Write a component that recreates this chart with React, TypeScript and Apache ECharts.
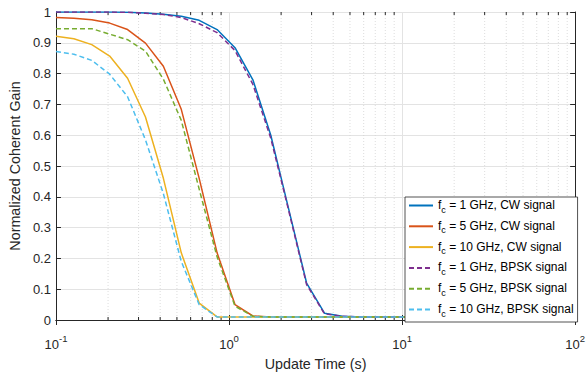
import React, { useEffect, useRef } from 'react';
import * as echarts from 'echarts';

// Update times (s), log-spaced samples
const updateTimes = [
  0.1, 0.1269, 0.161, 0.2043, 0.2593, 0.329, 0.4175, 0.5298, 0.6723, 0.8532,
  1.0826, 1.3738, 1.7433, 2.2122, 2.8072, 3.5622, 4.5204, 5.7362, 7.279, 9.2367,
  11.721, 14.874, 18.874, 23.95, 30.392, 38.566, 48.939, 62.102, 78.805, 100,
];

const cw1GHz = [
  1.0, 1.0, 1.0, 1.0, 0.999, 0.997, 0.993, 0.986, 0.973, 0.943,
  0.884, 0.78, 0.6, 0.36, 0.12, 0.022, 0.012, 0.01, 0.01, 0.01,
  0.01, 0.01, 0.01, 0.01, 0.01, 0.01, 0.01, 0.01, 0.01, 0.01,
];
const cw5GHz = [
  0.982, 0.98, 0.975, 0.964, 0.943, 0.899, 0.824, 0.684, 0.46, 0.218,
  0.05, 0.013, 0.01, 0.01, 0.01, 0.01, 0.01, 0.01, 0.01, 0.01,
  0.01, 0.01, 0.01, 0.01, 0.01, 0.01, 0.01, 0.01, 0.01, 0.01,
];
const cw10GHz = [
  0.921, 0.913, 0.894, 0.857, 0.785, 0.659, 0.46, 0.218, 0.055, 0.01,
  0.01, 0.01, 0.01, 0.01, 0.01, 0.01, 0.01, 0.01, 0.01, 0.01,
  0.01, 0.01, 0.01, 0.01, 0.01, 0.01, 0.01, 0.01, 0.01, 0.01,
];
const bpsk1GHz = [
  1.0, 1.0, 1.0, 1.0, 0.999, 0.996, 0.992, 0.982, 0.962, 0.933,
  0.875, 0.765, 0.59, 0.355, 0.115, 0.02, 0.012, 0.01, 0.01, 0.01,
  0.01, 0.01, 0.01, 0.01, 0.01, 0.01, 0.01, 0.01, 0.01, 0.01,
];
const bpsk5GHz = [
  0.946, 0.946, 0.946, 0.928, 0.91, 0.873, 0.782, 0.648, 0.425, 0.205,
  0.045, 0.012, 0.01, 0.01, 0.01, 0.01, 0.01, 0.01, 0.01, 0.01,
  0.01, 0.01, 0.01, 0.01, 0.01, 0.01, 0.01, 0.01, 0.01, 0.01,
];
const bpsk10GHz = [
  0.872, 0.863, 0.843, 0.798, 0.725, 0.585, 0.41, 0.19, 0.05, 0.01,
  0.01, 0.01, 0.01, 0.01, 0.01, 0.01, 0.01, 0.01, 0.01, 0.01,
  0.01, 0.01, 0.01, 0.01, 0.01, 0.01, 0.01, 0.01, 0.01, 0.01,
];

const seriesNames = [
  'fc = 1 GHz, CW signal',
  'fc = 5 GHz, CW signal',
  'fc = 10 GHz, CW signal',
  'fc = 1 GHz, BPSK signal',
  'fc = 5 GHz, BPSK signal',
  'fc = 10 GHz, BPSK signal',
];
const seriesValues = [cw1GHz, cw5GHz, cw10GHz, bpsk1GHz, bpsk5GHz, bpsk10GHz];
const seriesDashed = [false, false, false, true, true, true];
const seriesColors = ['#0072BD', '#D95319', '#EDB120', '#7E2F8E', '#77AC30', '#4DBEEE'];

const minorTicks = [
  0.2, 0.3, 0.4, 0.5, 0.6, 0.7, 0.8, 0.9,
  2, 3, 4, 5, 6, 7, 8, 9,
  20, 30, 40, 50, 60, 70, 80, 90,
];

const FONT = '"Liberation Sans", Arial, Helvetica, sans-serif';
const AXIS = '#262626';

export default function App() {
  const ref = useRef<HTMLDivElement>(null);
  useEffect(() => {
    document.body.style.margin = '0';
    const chart = echarts.init(ref.current!, null, { renderer: 'svg' });

    const lineSeries = seriesNames.map((name, i) => ({
      name,
      type: 'line',
      xAxisIndex: 0,
      yAxisIndex: 0,
      data: updateTimes.map((t, j) => [t, seriesValues[i][j]]),
      symbol: 'none',
      smooth: false,
      z: 3,
      lineStyle: {
        color: seriesColors[i],
        width: 1.5,
        type: seriesDashed[i] ? [5, 3] : 'solid',
      },
      itemStyle: { color: seriesColors[i] },
    }));

    const minorSeries = {
      type: 'custom',
      xAxisIndex: 0,
      yAxisIndex: 0,
      silent: true,
      z: 1,
      data: minorTicks.map((v) => [v, 0]),
      encode: { x: 0, y: 1 },
      renderItem: (params: any, api: any) => {
        const x = api.value(0);
        const top = api.coord([x, 1]);
        const bot = api.coord([x, 0]);
        return {
          type: 'group',
          children: [
            {
              type: 'line',
              shape: { x1: top[0], y1: top[1], x2: bot[0], y2: bot[1] },
              style: { stroke: '#d4d4d4', lineWidth: 0.8, lineDash: [1, 2] },
            },
            {
              type: 'line',
              shape: { x1: bot[0], y1: bot[1], x2: bot[0], y2: bot[1] - 3 },
              style: { stroke: AXIS, lineWidth: 1 },
            },
            {
              type: 'line',
              shape: { x1: top[0], y1: top[1], x2: top[0], y2: top[1] + 3 },
              style: { stroke: AXIS, lineWidth: 1 },
            },
          ],
        };
      },
    };

    const option: any = {
      animation: false,
      backgroundColor: '#ffffff',
      textStyle: { fontFamily: FONT },
      grid: { left: 49, right: 9, top: 12, bottom: 47, containLabel: false },
      xAxis: [
        {
          type: 'log',
          logBase: 10,
          min: 0.1,
          max: 100,
          position: 'bottom',
          name: 'Update Time (s)',
          nameLocation: 'middle',
          nameGap: 37,
          nameTextStyle: { fontSize: 14.3, color: AXIS, fontFamily: FONT },
          axisLine: { show: true, lineStyle: { color: AXIS, width: 1 } },
          axisTick: { show: true, inside: true, length: 5, lineStyle: { color: AXIS } },
          splitLine: { show: true, lineStyle: { color: '#e3e3e3', width: 1 } },
          axisLabel: {
            margin: 16,
            formatter: (v: number) => {
              const e = Math.round(Math.log10(v));
              return `{b|10}{s|${e}}`;
            },
            rich: {
              b: { fontSize: 13, lineHeight: 15, color: AXIS, fontFamily: FONT, verticalAlign: 'bottom' },
              s: { fontSize: 9.5, lineHeight: 10, color: AXIS, fontFamily: FONT, verticalAlign: 'bottom', padding: [0, 0, 8, 0] },
            },
          },
        },
        {
          type: 'log',
          logBase: 10,
          min: 0.1,
          max: 100,
          position: 'top',
          axisLine: { show: true, lineStyle: { color: AXIS, width: 1 } },
          axisTick: { show: true, inside: true, length: 5, lineStyle: { color: AXIS } },
          axisLabel: { show: false },
          splitLine: { show: false },
        },
      ],
      yAxis: [
        {
          type: 'value',
          min: 0,
          max: 1,
          interval: 0.1,
          position: 'left',
          name: 'Normalized Coherent Gain',
          nameLocation: 'middle',
          nameGap: 25,
          nameTextStyle: { fontSize: 14.3, color: AXIS, fontFamily: FONT },
          axisLine: { show: true, lineStyle: { color: AXIS, width: 1 } },
          axisTick: { show: true, inside: true, length: 5, lineStyle: { color: AXIS } },
          splitLine: { show: true, lineStyle: { color: '#e3e3e3', width: 1 } },
          axisLabel: {
            margin: 5,
            fontSize: 13,
            color: AXIS,
            fontFamily: FONT,
            formatter: (v: number) => {
              if (Math.abs(v) < 1e-9) return '0';
              if (Math.abs(v - 1) < 1e-9) return '1';
              return v.toFixed(1);
            },
          },
        },
        {
          type: 'value',
          min: 0,
          max: 1,
          interval: 0.1,
          position: 'right',
          axisLine: { show: true, lineStyle: { color: AXIS, width: 1 } },
          axisTick: { show: true, inside: true, length: 5, lineStyle: { color: AXIS } },
          axisLabel: { show: false },
          splitLine: { show: false },
        },
      ],
      legend: {
        data: seriesNames,
        orient: 'vertical',
        left: 405,
        top: 197,
        itemWidth: 24,
        itemHeight: 14,
        itemGap: 5.8,
        padding: [2, 4, 4, 3],
        backgroundColor: '#ffffff',
        borderColor: AXIS,
        borderWidth: 0.8,
        borderRadius: 0,
        itemStyle: { opacity: 0 },
        formatter: (name: string) => `{f|f}{c|c}{t|${name.slice(2)}}`,
        textStyle: {
          fontSize: 12,
          color: '#000000',
          fontFamily: FONT,
          rich: {
            f: { fontSize: 12, lineHeight: 13, fontFamily: FONT, color: '#000', verticalAlign: 'top' },
            c: { fontSize: 9, lineHeight: 9, fontFamily: FONT, color: '#000', verticalAlign: 'top', padding: [6, 0, 0, 0] },
            t: { fontSize: 12, lineHeight: 13, fontFamily: FONT, color: '#000', verticalAlign: 'top' },
          },
        },
      },
      series: [minorSeries, ...lineSeries],
    };

    chart.setOption(option);
    return () => chart.dispose();
  }, []);
  return <div ref={ref} style={{ width: 588, height: 376 }} />;
}
